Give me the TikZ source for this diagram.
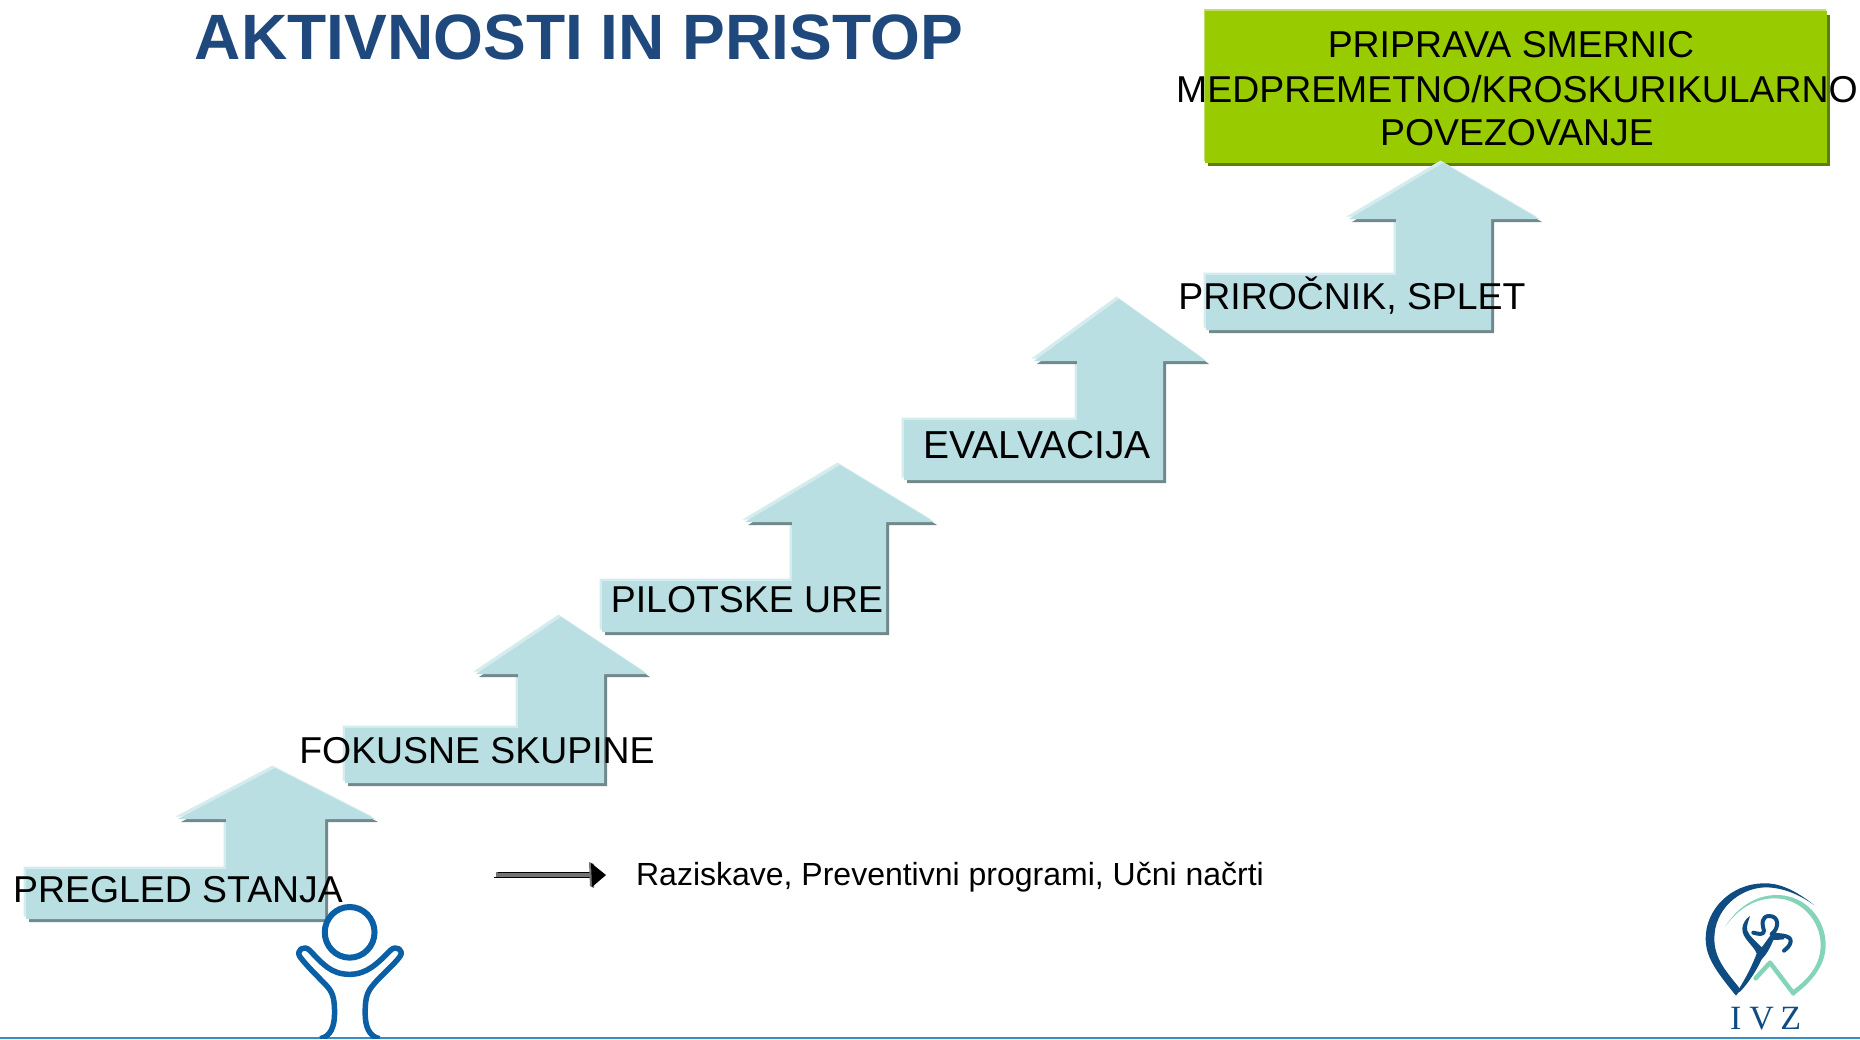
\documentclass[tikz,border=0pt]{standalone}
\usepackage{fontspec}
\setmainfont{Liberation Sans}
\newfontfamily\serifface{Liberation Serif}
\usetikzlibrary{arrows.meta}
\definecolor{stairfill}{HTML}{B9DFE3}
\definecolor{stairdark}{HTML}{70898C}
\definecolor{stairlight}{HTML}{D5ECEE}
\definecolor{greenfill}{HTML}{99CC00}
\definecolor{greendark}{HTML}{5F7F00}
\definecolor{greenlight}{HTML}{C2DF66}
\definecolor{titleblue}{HTML}{1F497D}
\definecolor{personblue}{HTML}{0B5FA5}
\definecolor{rulerblue}{HTML}{3A8AC4}
\definecolor{logodark}{HTML}{0F4C81}
\definecolor{logoteal}{HTML}{84D4B7}
\tikzset{
  lbl/.style={anchor=base,inner sep=0pt,font=\fontsize{37.4}{44}\selectfont,text=black},
}
\newcommand{\stairarrow}[1]{%
  \fill[stairlight,shift={(-2.5,-2.5)}] #1;
  \fill[stairdark,shift={(3,3)}] #1;
  \fill[stairfill] #1;
}
\begin{document}
\begin{tikzpicture}[x=1pt,y=-1pt]
\useasboundingbox (0,0) rectangle (1860,1039);
\fill[white] (0,0) rectangle (1860,1039);
% rule
\draw[rulerblue,line width=1.6pt] (0,1038.2) -- (1860,1038.2);
% green box
\fill[greenlight] (1204,9) rectangle (1826,161);
\fill[greendark] (1208,15) rectangle (1830,166);
\fill[greenfill] (1205,11) rectangle (1827,163);
% stairs
\stairarrow{(275,768) -- (375,819) -- (325,819) -- (325,919) -- (26,919) -- (26,869) -- (226,869) -- (226,819) -- (178,819) -- cycle}
\stairarrow{(561,617) -- (647,674) -- (604,674) -- (604,783) -- (345,783) -- (345,728) -- (518,728) -- (518,674) -- (476,674) -- cycle}
\stairarrow{(840,465) -- (934,522) -- (886,522) -- (886,632) -- (602,632) -- (602,581) -- (792,581) -- (792,522) -- (745,522) -- cycle}
\stairarrow{(1119,299) -- (1206,361) -- (1163,361) -- (1163,480) -- (904,480) -- (904,420) -- (1077,420) -- (1077,361) -- (1034,361) -- cycle}
\stairarrow{(1443,163) -- (1539,219) -- (1491,219) -- (1491,330) -- (1206,330) -- (1206,275) -- (1396,275) -- (1396,219) -- (1349,219) -- cycle}
% title
\node[anchor=base,inner sep=0pt,font=\fontsize{64.1}{70}\selectfont\bfseries,text=titleblue] (title) at (579,59) {AKTIVNOSTI IN PRISTOP};
% labels
\node[lbl] (l1) at (178,902) {PREGLED STANJA};
\node[lbl] (l2) at (477,763) {FOKUSNE SKUPINE};
\node[lbl] (l3) at (747,612) {PILOTSKE URE};
\node[lbl,font=\fontsize{39}{44}\selectfont] (l4) at (1037,458) {EVALVACIJA};
\node[lbl] (l5) at (1352,309) {PRIROČNIK, SPLET};
\node[lbl] (g1) at (1511,57) {PRIPRAVA SMERNIC};
\node[lbl] (g2) at (1517,102) {MEDPREMETNO/KROSKURIKULARNO};
\node[lbl] (g3) at (1517,145) {POVEZOVANJE};
\node[anchor=base,inner sep=0pt,font=\fontsize{32}{38}\selectfont] (note) at (950,885) {Raziskave, Preventivni programi, Učni načrti};
% small arrow
\coordinate (as) at (494,875);
\coordinate (ae) at (605,875);
\draw[black!55,line width=6pt] ([xshift=2pt]as) -- ([xshift=-14pt]ae);
\draw[black,line width=1.4pt] ([yshift=-2.5pt]as) -- ([xshift=-14pt,yshift=-2.5pt]ae);
\draw[black,line width=1.4pt] ([xshift=4pt,yshift=2.5pt]as) -- ([xshift=-14pt,yshift=2.5pt]ae);
\fill[black!55] (589,862) -- (594,864) -- (594,888) -- (590,886) -- cycle;
\fill[black] (591,863) -- (606,875) -- (592,887) -- cycle;
% person
\begin{scope}[shift={(0,740)},x=0.408pt,y=-0.3333pt]
\draw[personblue,line width=6pt] (857,577) ellipse [x radius=61,y radius=76];
\begin{scope}
\clip (600,480) rectangle (1100,896);
\draw[personblue,line width=5.5pt,line join=round]
 (785,896) .. controls (810,890) and (820,860) .. (820,820)
 .. controls (820,770) and (815,755) .. (795,730)
 .. controls (775,705) and (750,675) .. (735,650)
 .. controls (725,630) and (745,615) .. (758,630)
 .. controls (790,670) and (810,703) .. (857,703)
 .. controls (900,703) and (925,670) .. (958,630)
 .. controls (970,615) and (992,630) .. (980,650)
 .. controls (965,675) and (935,705) .. (918,730)
 .. controls (900,755) and (895,770) .. (895,820)
 .. controls (895,860) and (905,890) .. (930,896);
\end{scope}
\end{scope}
% logo
\begin{scope}[shift={(1660,860)},x=0.3333pt,y=-0.3333pt]
\fill[logodark] (462,135) .. controls (400,85) and (350,68) .. (310,70)
 .. controls (210,72) and (137,150) .. (137,235)
 .. controls (137,290) and (165,330) .. (228,407)
 .. controls (240,395) and (240,385) .. (235,380)
 .. controls (190,325) and (163,290) .. (163,235)
 .. controls (163,150) and (235,85) .. (315,82)
 .. controls (370,82) and (420,105) .. (462,135) -- cycle;
\fill[logoteal] (195,200) .. controls (240,130) and (300,105) .. (350,105)
 .. controls (435,105) and (497,175) .. (497,255)
 .. controls (497,320) and (450,370) .. (400,407)
 .. controls (392,400) and (392,395) .. (396,392)
 .. controls (450,355) and (482,310) .. (482,255)
 .. controls (482,180) and (420,115) .. (345,115)
 .. controls (290,115) and (240,140) .. (195,200) -- cycle;
\draw[logoteal,line width=4.5pt,line cap=round,line join=round] (287,355) -- (330,308) -- (400,400);
\fill[logodark] (228,400) .. controls (255,360) and (280,310) .. (290,280)
 .. controls (280,255) and (245,235) .. (247,205)
 .. controls (248,190) and (258,175) .. (270,168)
 .. controls (265,185) and (258,200) .. (262,212)
 .. controls (270,232) and (285,240) .. (305,262)
 .. controls (318,245) and (325,235) .. (332,225)
 .. controls (350,232) and (362,228) .. (372,228)
 -- (372,238) .. controls (350,240) and (345,240) .. (340,240)
 .. controls (330,265) and (318,285) .. (305,298)
 .. controls (290,330) and (265,370) .. (240,395) -- cycle;
\draw[logodark,line width=4pt,line cap=round,line join=round]
 (280,218) .. controls (295,222) and (312,226) .. (312,212)
 .. controls (305,190) and (305,168) .. (328,168)
 .. controls (358,168) and (358,205) .. (335,222)
 .. controls (350,228) and (395,222) .. (392,245)
 .. controls (390,258) and (380,265) .. (372,272);
\node[anchor=base,inner sep=0pt,text=logodark,font=\serifface\fontsize{34}{36}\selectfont] (ivz) at (317,510) {I\hspace{8pt}V\hspace{6.5pt}Z};
\end{scope}
\end{tikzpicture}
\end{document}
